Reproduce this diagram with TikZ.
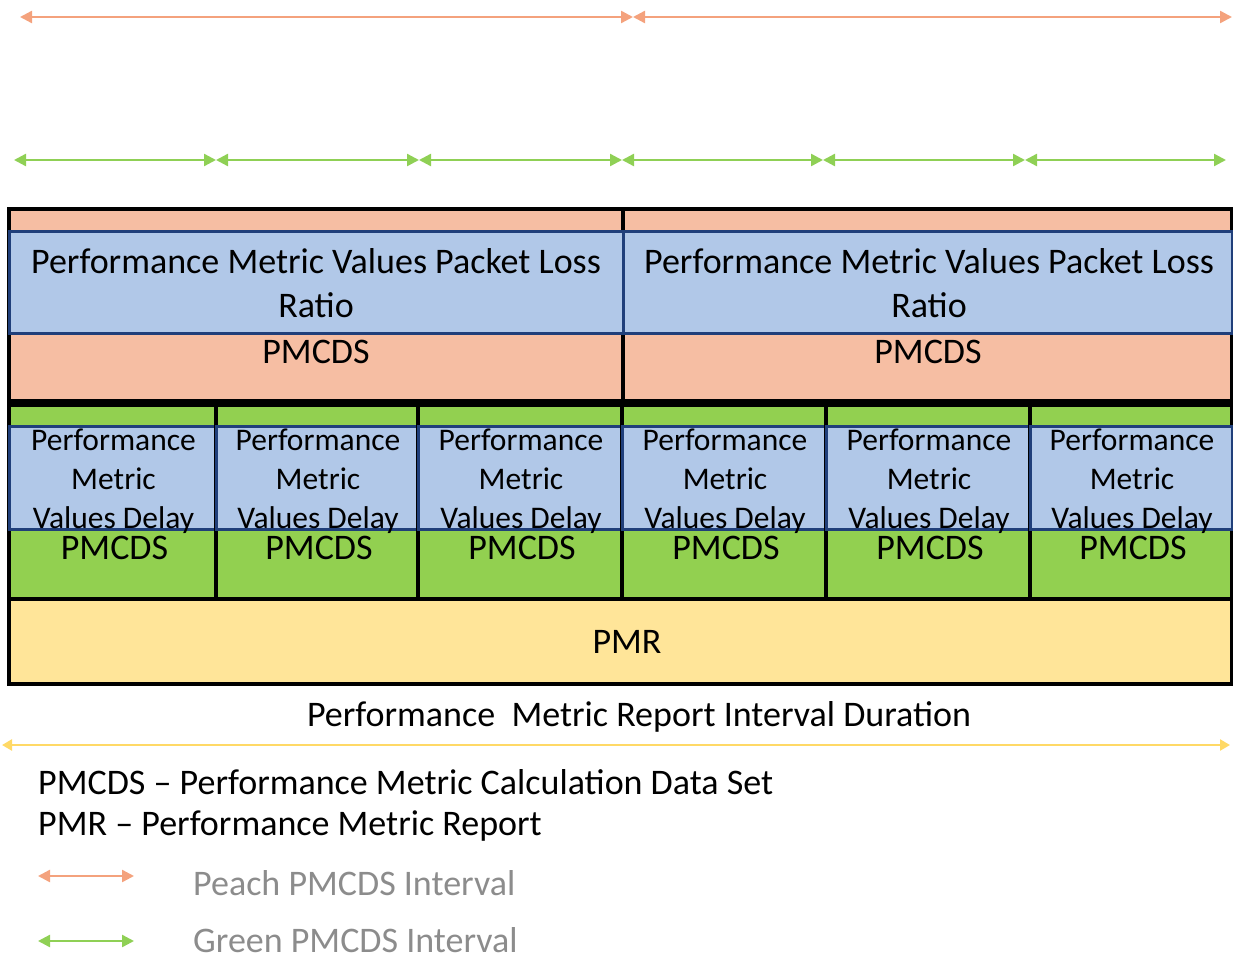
\documentclass[tikz,border=0pt]{standalone}
\usepackage{fontspec}
\setmainfont{Carlito}
\usetikzlibrary{arrows.meta}
\definecolor{peachfill}{HTML}{F6BEA3}
\definecolor{peachline}{HTML}{F4A27D}
\definecolor{greenfill}{HTML}{92D050}
\definecolor{greenline}{HTML}{8FD055}
\definecolor{bluefill}{HTML}{B1C8E8}
\definecolor{blueline}{HTML}{203F7A}
\definecolor{yellowfill}{HTML}{FFE599}
\definecolor{yellowline}{HTML}{FFD966}
\definecolor{greytext}{HTML}{8C8C8C}
\tikzset{
  box/.style={anchor=north west, inner sep=0pt, outer sep=0pt, draw=black, line width=3.2pt},
  peachbox/.style={box, fill=peachfill},
  greenbox/.style={box, fill=greenfill},
  bluebox/.style={anchor=north west, inner sep=0pt, outer sep=0pt, draw=blueline, line width=3pt, fill=bluefill},
  pmrbox/.style={box, fill=yellowfill},
  bigtxt/.style={font=\fontsize{36}{44}\selectfont, inner sep=0pt, align=center},
  smalltxt/.style={font=\fontsize{31.5}{39}\selectfont, inner sep=0pt, align=center},
  tip/.style={{Triangle[length=12pt,width=12pt]}-{Triangle[length=12pt,width=12pt]}},
  peacharrow/.style={tip, draw=peachline, fill=peachline, line width=2.4pt},
  greenarrow/.style={tip, draw=greenline, fill=greenline, line width=2.4pt},
  yellowarrow/.style={{Triangle[length=10pt,width=11pt]}-{Triangle[length=10pt,width=11pt]}, draw=yellowline, fill=yellowline, line width=2.4pt},
}
\begin{document}
\begin{tikzpicture}[x=1pt,y=-1pt]
\useasboundingbox (0,0) rectangle (1233,958);
% top peach interval arrows
\coordinate (pa0) at (20,17);
\coordinate (pa1) at (633,17);
\coordinate (pa2) at (1232,17);
\draw[peacharrow] (pa0) -- (pa1);
\draw[peacharrow] (pa1) -- (pa2);
% green interval arrows
\foreach \i/\x in {0/14,1/216,2/419,3/622,4/823,5/1025,6/1226}{
  \coordinate (ga\i) at (\x,160);
}
\foreach \a/\b in {0/1,1/2,2/3,3/4,4/5,5/6}{
  \draw[greenarrow] (ga\a) -- (ga\b);
}
% peach PMCDS boxes
\node[peachbox, minimum width=614pt, minimum height=192pt] (pL) at (9,209) {};
\node[peachbox, minimum width=609pt, minimum height=192pt] (pR) at (623,209) {};
\node[bluebox, minimum width=614pt, minimum height=102pt] (bL) at (9,231) {};
\node[bluebox, minimum width=609pt, minimum height=102pt] (bR) at (623,231) {};
\node[bigtxt] (tL) at (316,283) {Performance Metric Values Packet Loss\\Ratio};
\node[bigtxt] (tR) at (929,283) {Performance Metric Values Packet Loss\\Ratio};
\node[bigtxt] (sL) at (316,352) {PMCDS};
\node[bigtxt] (sR) at (928,352) {PMCDS};
% green PMCDS boxes
\foreach \i/\x/\w in {1/9/207,2/216/202,3/418/204,4/622/204,5/826/204,6/1030/202}{
  \node[greenbox, minimum width=\w pt, minimum height=194pt] (g\i) at (\x,405) {};
  \node[bluebox, minimum width=\w pt, minimum height=103pt] (gb\i) at (\x,426) {};
  \node[smalltxt] (gt\i) at (\x+\w/2+1,481) {Performance\\Metric\\Values Delay};
  \node[bigtxt] (gs\i) at (\x+\w/2+2,548) {PMCDS};
}
% PMR
\node[pmrbox, minimum width=1223pt, minimum height=85pt] (pmr) at (9,599) {};
\node[bigtxt] (pmrt) at (627,642) {PMR};
% duration
\node[bigtxt] (dur) at (639,717) {Performance\ \ Metric Report Interval Duration};
\coordinate (ya0) at (2,745);
\coordinate (ya1) at (1230,745);
\draw[yellowarrow] (ya0) -- (ya1);
% legend
\node[bigtxt, anchor=west] (l1) at (38,782) {PMCDS -- Performance Metric Calculation Data Set};
\node[bigtxt, anchor=west] (l2) at (38,826) {PMR -- Performance Metric Report};
\coordinate (lp0) at (38,876);
\coordinate (lp1) at (134,876);
\draw[peacharrow] (lp0) -- (lp1);
\node[bigtxt, anchor=west, text=greytext] (l3) at (193,883) {Peach PMCDS Interval};
\coordinate (lg0) at (38,941);
\coordinate (lg1) at (134,941);
\draw[greenarrow] (lg0) -- (lg1);
\node[bigtxt, anchor=west, text=greytext] (l4) at (193,940) {Green PMCDS Interval};
\end{tikzpicture}
\end{document}
